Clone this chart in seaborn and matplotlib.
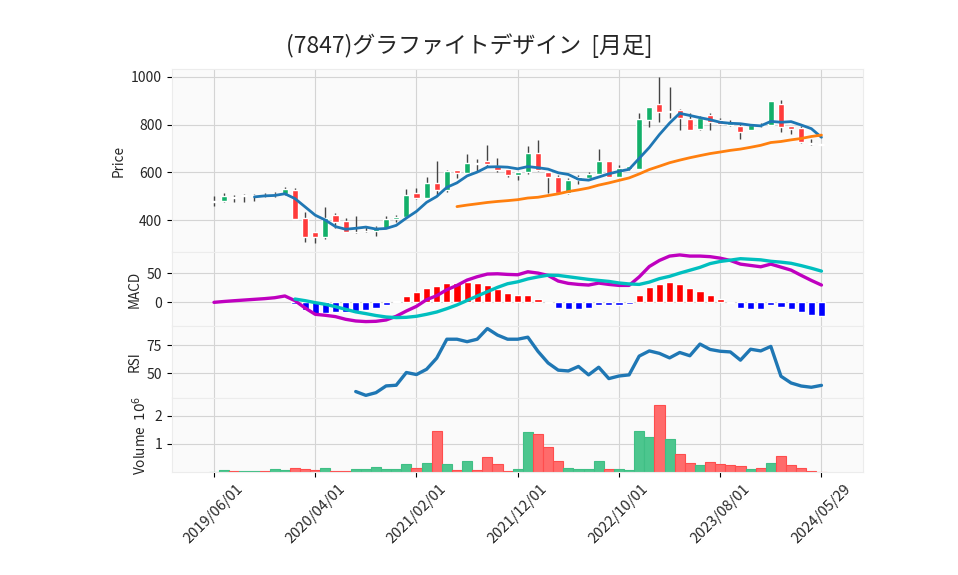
import numpy as np
import pandas as pd
import seaborn as sns
import matplotlib.pyplot as plt

# monthly candles, 2019/06 .. 2024/05
tick_labels = ['2019/06/01', '2020/04/01', '2021/02/01', '2021/12/01',
               '2022/10/01', '2023/08/01', '2024/05/29']
tick_pos = [0, 10, 20, 30, 40, 50, 60]

opens = [478, 482, 498, 500, 502, 506, 504, 511, 526, 410,
         349, 332, 422, 397, 350, 356, 353, 368, 407, 412,
         512, 494, 556, 528, 610, 599, 639, 647, 628, 614,
         590, 600, 683, 600, 583, 514, 568, 578, 593, 647,
         583, 614, 614, 819, 885, 853, 861, 825, 781, 839,
         818, 799, 793, 778, 799, 799, 885, 793, 787, 724, 718]
highs = [500, 512, 505, 511, 510, 512, 520, 539, 533, 436,
         349, 454, 430, 410, 417, 372, 375, 416, 424, 531,
         533, 579, 646, 610, 610, 679, 655, 717, 661, 614,
         604, 711, 736, 600, 588, 575, 588, 600, 700, 650,
         633, 628, 847, 876, 1000, 958, 867, 850, 836, 850,
         829, 818, 804, 801, 808, 900, 903, 793, 794, 738, 718]
lows = [461, 478, 475, 478, 480, 498, 498, 507, 404, 308,
        305, 320, 366, 349, 348, 350, 336, 368, 392, 408,
        489, 492, 503, 520, 575, 598, 607, 628, 603, 583,
        569, 593, 605, 514, 514, 510, 552, 575, 593, 579,
        579, 611, 614, 791, 812, 829, 776, 778, 778, 777,
        800, 794, 740, 778, 790, 799, 769, 762, 722, 716, 716]
closes = [482, 501, 495, 506, 505, 503, 510, 531, 404, 332,
          329, 408, 394, 349, 352, 354, 367, 406, 414, 505,
          494, 556, 528, 606, 599, 639, 636, 635, 611, 590,
          604, 683, 611, 582, 514, 568, 582, 593, 647, 583,
          618, 625, 822, 876, 853, 857, 829, 778, 829, 811,
          803, 808, 769, 799, 796, 897, 790, 782, 728, 720, 716]

# volume in millions, G = up bar, R = down bar
volume = [0.012, 0.07, 0.035, 0.035, 0.035, 0.035, 0.107, 0.07, 0.14, 0.107,
          0.07, 0.14, 0.035, 0.035, 0.107, 0.107, 0.18, 0.107, 0.107, 0.29,
          0.14, 0.32, 1.46, 0.29, 0.07, 0.39, 0.07, 0.54, 0.29, 0.035,
          0.107, 1.43, 1.36, 0.89, 0.39, 0.14, 0.107, 0.107, 0.39, 0.107,
          0.107, 0.07, 1.46, 1.25, 2.36, 1.18, 0.64, 0.32, 0.25, 0.36,
          0.29, 0.25, 0.21, 0.107, 0.14, 0.32, 0.57, 0.25, 0.14, 0.035, 0.015]
vol_dir = list('GGRGGRGGRRRGRRGGGGGGRGRGRGRRRRG' + 'GRRRGGGGRGGGGRGRRGRRRRGRGRRRRR')

nan = np.nan
macd = [0.0, 1.5, 2.8, 4.0, 5.2, 6.4, 8.0, 11.0, 2.9, -9.8,
        -20.7, -22.4, -24.7, -29.3, -32.2, -33.3, -32.8, -30.5, -24.1, -15.0,
        -6.9, 4.6, 11.5, 21.8, 29.3, 38.5, 44.3, 48.9, 49.4, 48.3,
        47.7, 52.9, 50.6, 46.5, 36.8, 32.8, 31.0, 29.9, 33.3, 31.0,
        29.3, 29.3, 44.0, 62.0, 72.5, 80.0, 82.0, 80.0, 80.0, 79.0,
        76.4, 72.4, 66.1, 63.8, 61.5, 66.1, 60.9, 55.7, 46.6, 37.9, 29.9]
signal = [nan, nan, nan, nan, nan, nan, nan, nan, 5.7, 2.9,
          -0.5, -3.4, -7.5, -12.0, -16.5, -19.5, -22.8, -25.3, -26.4, -25.9,
          -24.1, -20.7, -16.7, -10.9, -4.5, 3.2, 10.9, 18.4, 25.9, 32.2,
          35.5, 40.5, 44.0, 47.0, 46.6, 44.3, 42.0, 39.7, 37.9, 36.2,
          33.5, 31.8, 31.0, 35.0, 41.0, 45.0, 50.5, 55.5, 60.5, 67.0,
          70.7, 73.0, 75.5, 74.5, 73.5, 71.0, 69.5, 67.5, 63.5, 59.0, 54.0]
rsi = [nan] * 14 + [33.8, 30.4, 32.8, 38.8, 39.4, 50.7,
                    48.9, 53.6, 63.5, 80.3, 80.3, 78.1, 80.3, 89.8, 84.0, 80.3,
                    80.3, 82.1, 69.5, 59.2, 52.8, 52.1, 56.1, 48.6, 55.4, 45.3,
                    47.6, 48.6, 65.3, 69.9, 67.7, 63.7, 68.5, 65.6, 76.0, 71.2,
                    69.6, 69.0, 61.7, 71.4, 69.9, 73.9, 47.4, 41.4, 38.7, 37.6, 39.3]

df = pd.DataFrame({'o': opens, 'h': highs, 'l': lows, 'c': closes,
                   'vol': volume, 'macd': macd, 'signal': signal, 'rsi': rsi})
df['x'] = np.arange(len(df))
df['ma5'] = df['c'].rolling(5).mean()
df['ma25'] = df['c'].rolling(25).mean()
df['hist'] = df['macd'] - df['signal']

sns.set_style("whitegrid", {"axes.facecolor": "#fafafa", "grid.color": "#d4d4d4",
                            "axes.edgecolor": "#ececec"})
plt.rcParams['font.family'] = ['Noto Sans CJK JP', 'DejaVu Sans']

fig = plt.figure(figsize=(9.58, 5.75), dpi=100)
gs = fig.add_gridspec(4, 1, height_ratios=[183, 74, 72, 74], hspace=0,
                      left=0.1795, right=0.9008, top=0.88, bottom=0.179)
ax_p = fig.add_subplot(gs[0])
ax_m = fig.add_subplot(gs[1], sharex=ax_p)
ax_r = fig.add_subplot(gs[2], sharex=ax_p)
ax_v = fig.add_subplot(gs[3], sharex=ax_p)

up_c, dn_c = '#13b06a', '#ff3b3b'

# candles
up = df['c'] >= df['o']
ax_p.vlines(df['x'], df['l'], df['h'], color='#444444', lw=1, zorder=2)
body = (df['c'] - df['o']).abs().clip(lower=2.5)
ax_p.bar(df['x'], body, bottom=df[['o', 'c']].min(axis=1), width=0.6,
         color=np.where(up, up_c, dn_c), zorder=3)
sns.lineplot(data=df, x='x', y='ma5', ax=ax_p, color='#1f77b4', lw=2.0, zorder=4)
sns.lineplot(data=df, x='x', y='ma25', ax=ax_p, color='#ff7f0e', lw=2.0, zorder=4)
ax_p.set_ylim(267, 1033)
ax_p.set_yticks([400, 600, 800, 1000])
ax_p.set_ylabel('Price')

# MACD
ax_m.bar(df['x'], df['hist'], width=0.7,
         color=np.where(df['hist'] >= 0, '#ff0000', '#0000ff'), zorder=2)
sns.lineplot(data=df, x='x', y='macd', ax=ax_m, color='#bf00bf', lw=2.4, zorder=3)
sns.lineplot(data=df, x='x', y='signal', ax=ax_m, color='#00bfbf', lw=2.4, zorder=3)
ax_m.set_ylim(-41, 87)
ax_m.set_yticks([0, 50])
ax_m.set_ylabel('MACD')

# RSI
sns.lineplot(data=df, x='x', y='rsi', ax=ax_r, color='#1f77b4', lw=2.4)
ax_r.set_ylim(28, 92)
ax_r.set_yticks([50, 75])
ax_r.set_ylabel('RSI')

# volume
ax_v.bar(df['x'], df['vol'], width=1.0,
         color=['#4cc68e' if d == 'G' else '#ff6b6b' for d in vol_dir],
         edgecolor=['#3fbf85' if d == 'G' else '#ff4d4d' for d in vol_dir],
         lw=0.8, zorder=2)
ax_v.set_ylim(0, 2.62)
ax_v.set_yticks([1, 2])
ax_v.set_ylabel('Volume  $10^6$')

ax_v.set_xlim(-4.15, 64.1)
ax_v.set_xticks(tick_pos)
ax_v.set_xticklabels(tick_labels, rotation=45, ha='center', fontsize=10.5)
ax_v.set_xlabel('')

for a in [ax_p, ax_m, ax_r, ax_v]:
    a.tick_params(axis='y', left=True, length=3.5, width=0.8, color='black', labelsize=10)
    a.yaxis.label.set_size(9.8)
    a.set_xlabel('')
    for s in a.spines.values():
        s.set_linewidth(0.8)
for a in [ax_p, ax_m, ax_r]:
    a.tick_params(axis='x', labelbottom=False, bottom=False)
ax_v.tick_params(axis='x', bottom=True, length=3.5, width=0.8, color='black')

fig.text(0.49, 0.921, '(7847)グラファイトデザイン  [月足]', ha='center', va='center', fontsize=16.5)

plt.savefig('out.png', dpi=100)
